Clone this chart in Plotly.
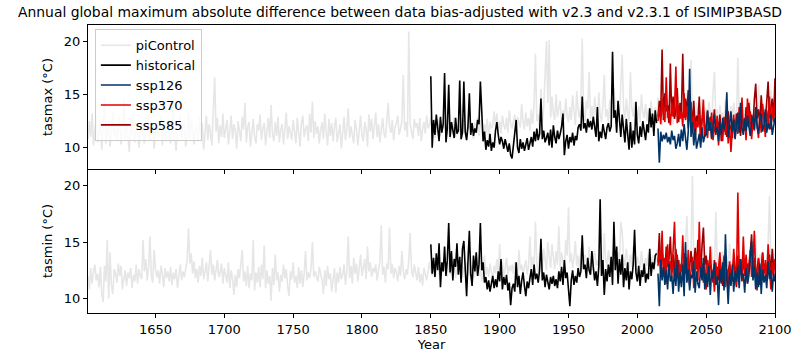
import plotly.graph_objects as go
from plotly.subplots import make_subplots

TITLE = "Annual global maximum absolute difference between data bias-adjusted with v2.3 and v2.3.1 of ISIMIP3BASD"
series_names = ["piControl", "historical", "ssp126", "ssp370", "ssp585"]
series_colors = {"piControl": "#e6e6e6", "historical": "#000000", "ssp126": "#003466",
                 "ssp370": "#e00000", "ssp585": "#990002"}
picontrol_start = 1601
historical_start = 1850
ssp_start = 2015
x_ticks = [1650, 1700, 1750, 1800, 1850, 1900, 1950, 2000, 2050, 2100]
y_ticks = [10, 15, 20]

# ---------------- tasmax ----------------
tasmax_picontrol = [
    10.8, 12.5, 11.0, 13.2, 10.2, 11.8, 12.9, 10.5, 11.4, 12.2,
    9.8, 13.0, 14.7, 10.4, 11.9, 12.6, 10.1, 11.3, 13.4, 11.0,
    12.1, 10.6, 11.7, 12.9, 10.3, 11.5, 14.7, 10.8, 12.4, 11.2,
    9.6, 12.8, 11.1, 13.3, 10.5, 11.9, 12.3, 10.0, 11.6, 12.7,
    11.0, 10.4, 12.9, 11.3, 13.1, 10.7, 11.8, 12.2, 9.9, 11.4,
    12.6, 10.9, 11.5, 13.0, 10.2, 12.1, 11.3, 10.6, 12.8, 11.1,
    10.4, 12.5, 14.4, 11.0, 9.7, 12.0, 11.6, 13.2, 10.8, 11.9,
    12.4, 10.1, 11.2, 13.5, 10.9, 12.7, 11.4, 10.3, 12.0, 11.7,
    10.6, 12.9, 11.1, 12.3, 9.8, 11.5, 13.0, 10.7, 12.2, 11.3,
    10.2, 13.4, 16.6, 11.5, 12.8, 10.4, 12.1, 11.0, 13.2, 10.9,
    11.8, 12.6, 10.3, 11.4, 13.0, 10.8, 12.2, 11.6, 9.9, 12.5,
    11.2, 10.6, 12.9, 11.7, 14.2, 10.5, 11.9, 12.4, 10.1, 11.3,
    12.7, 11.0, 10.4, 12.2, 11.6, 13.1, 10.7, 11.8, 12.3, 10.2,
    11.5, 12.8, 10.9, 14.0, 11.3, 10.6, 12.4, 11.1, 12.9, 10.5,
    11.7, 12.2, 10.3, 11.9, 13.3, 10.8, 12.0, 11.4, 10.7, 12.6,
    11.2, 10.4, 12.8, 11.6, 10.1, 12.3, 13.0, 11.0, 11.8, 12.1,
    10.6, 13.2, 11.4, 14.3, 10.9, 12.5, 11.3, 12.0, 10.4, 11.7,
    12.4, 10.8, 13.2, 11.5, 10.2, 12.7, 11.1, 12.3, 10.6, 11.9,
    12.8, 10.5, 11.6, 12.2, 9.9, 11.4, 12.9, 10.7, 11.8, 13.7,
    10.9, 12.0, 11.3, 10.4, 12.6, 11.7, 10.2, 12.1, 13.0, 11.1,
    10.6, 12.4, 11.8, 10.1, 13.1, 11.5, 12.7, 10.8, 11.9, 13.3,
    11.0, 12.2, 10.5, 11.6, 12.8, 11.3, 10.9, 12.5, 14.2, 12.0,
    11.4, 12.6, 10.7, 11.9, 12.3, 13.0, 11.2, 11.8, 12.5, 16.8,
    11.6, 12.4, 11.0, 20.9, 12.2, 11.5, 10.8, 12.7, 11.9, 12.3,
    11.1, 12.8, 10.6, 11.7, 12.4, 11.3, 13.0, 11.8, 12.1, 12.9,
    11.5, 12.6, 10.9, 12.0, 11.4, 12.7, 11.1, 12.3, 11.8, 12.5,
    11.2, 12.0, 11.7, 10.8, 12.4, 11.6, 12.9, 11.0, 12.2, 11.5,
    12.1, 10.7, 11.9, 12.6, 11.3, 10.9, 12.4, 11.7, 12.0, 11.4,
    10.8, 12.3, 11.5, 12.9, 11.1, 12.6, 11.8, 10.6, 12.2, 11.4,
    12.7, 11.0, 12.4, 11.8, 12.1, 13.4, 12.0, 13.2, 11.6, 12.5,
    11.3, 13.0, 12.1, 11.7, 12.8, 11.4, 13.5, 12.2, 11.8, 12.6,
    13.1, 11.5, 12.9, 12.3, 11.9, 14.1, 12.4, 11.7, 13.3, 12.0,
    12.8, 11.6, 13.6, 12.2, 14.0, 18.8, 12.5, 13.1, 11.9, 15.5,
    12.4, 13.8, 17.5, 20.0, 14.2, 20.1, 12.8, 14.8, 13.2, 12.6,
    15.0, 12.9, 13.7, 14.4, 12.3, 13.5, 12.7, 14.6, 13.0, 12.4,
    13.8, 12.6, 14.9, 13.2, 12.1, 15.3, 13.4, 12.8, 14.1, 20.2,
    13.0, 12.5, 14.4, 13.6, 17.1, 12.7, 13.9, 12.2, 14.8, 13.3,
    12.6, 15.2, 13.1, 12.4, 14.0, 16.8, 12.9, 13.6, 12.3, 14.5,
    13.2, 12.7, 15.6, 13.4, 12.1, 14.2, 13.0, 16.0, 18.7, 13.5,
    12.8, 14.6, 13.1, 12.5, 17.1, 13.7, 12.9, 14.3, 13.2, 12.6,
    13.9, 12.4, 15.0, 13.3, 12.8, 14.1, 12.5, 13.6, 12.2, 14.4,
    13.0, 12.6, 13.8, 12.3, 14.7, 12.9, 13.4, 12.1, 14.0, 12.7,
    13.2, 12.4, 14.5, 12.8, 13.6, 12.2, 14.1, 12.9, 13.3, 12.5,
    13.9, 12.6, 14.8, 13.1, 12.4, 15.2, 12.8, 13.5, 18.2, 12.9,
    13.4, 12.3, 14.2, 12.7, 13.8, 12.1, 14.6, 13.0, 12.5, 13.7,
    12.8, 14.3, 13.2, 12.4, 15.1, 17.1, 12.9, 13.6, 12.2, 14.0,
    12.7, 13.3, 12.1, 14.5, 12.9, 13.5, 12.4, 13.9, 12.6, 14.2,
    13.0, 12.5, 18.4, 13.4, 12.2, 14.1, 12.8, 13.6, 12.3, 13.8,
    12.9, 14.4, 12.6, 13.2, 12.0, 13.7, 12.4, 15.9, 12.8, 13.3,
    12.5, 13.9, 12.2, 14.3, 12.7, 13.1, 15.4, 12.6, 13.8, 12.9,
]
tasmax_historical = [
    16.7, 10.0, 12.6, 11.2, 13.1, 11.8, 10.6, 12.9, 11.4, 12.2,
    17.0, 10.5, 11.8, 15.9, 11.0, 12.4, 11.7, 10.9, 12.8, 11.3,
    11.6, 16.3, 10.8, 11.4, 16.2, 11.5, 10.7, 12.0, 15.1, 11.2,
    12.3, 11.1, 11.8, 11.4, 12.6, 12.2, 16.2, 12.4, 10.6, 11.5,
    9.8, 10.7, 10.1, 11.3, 9.7, 10.5, 10.0, 11.6, 12.4, 11.2,
    10.3, 11.0, 10.6, 9.9, 10.8, 10.2, 9.6, 10.4, 9.3, 9.0,
    10.1, 11.2, 12.6, 10.0, 9.5, 10.8, 9.9, 10.5, 9.7, 10.3,
    10.9, 9.8, 10.4, 11.0, 10.1, 11.5, 10.6, 11.8, 10.7, 11.3,
    14.6, 10.8, 11.6, 10.5, 10.9, 11.4, 10.2, 11.7, 10.0, 12.1,
    11.0, 10.4, 11.6, 10.8, 11.3, 12.0, 13.2, 9.3, 10.6, 11.2,
    9.9, 11.0, 10.5, 11.4, 10.2, 11.1, 10.7, 11.9, 12.2, 11.6,
    14.8, 11.8, 12.3, 11.4, 12.7, 11.9, 12.5, 11.7, 12.9, 12.1,
    11.0, 13.8, 10.6, 11.5, 10.9, 12.2, 11.6, 10.8, 11.9, 12.3,
    11.5, 12.0, 19.0, 12.8, 13.5, 11.4, 14.4, 12.6, 11.0, 13.1,
    12.0, 10.5, 12.7, 11.3, 9.8, 12.4, 10.0, 11.6, 10.3, 14.3,
    11.2, 10.4, 12.0, 11.0, 12.5, 11.6, 10.7, 12.2, 11.4, 13.7,
    11.9, 13.2, 11.1, 13.5, 12.3,
]
tasmax_ssp126 = [
    11.8, 8.6, 11.5, 10.6, 11.2, 10.8, 11.4, 10.5, 11.0, 10.3,
    11.6, 10.7, 11.1, 9.9, 10.4, 11.3, 10.1, 11.7, 10.6, 12.2,
    10.9, 9.8, 11.5, 17.4, 11.0, 12.4, 10.2, 11.8, 9.9, 10.7,
    11.3, 10.0, 11.9, 10.5, 11.1, 11.2, 13.5, 11.6, 12.4, 10.9,
    12.2, 13.1, 11.4, 11.9, 10.6, 12.5, 11.2, 12.8, 11.7, 12.3,
    15.2, 11.0, 12.1, 13.4, 11.5, 12.6, 10.8, 12.0, 13.3, 11.4,
    14.2, 11.8, 11.2, 12.7, 11.6, 13.0, 12.2, 11.1, 12.4, 12.9,
    11.7, 13.8, 11.9, 11.3, 12.6, 13.2, 11.5, 12.1, 13.6, 11.4,
    12.3, 11.7, 13.1, 11.2, 12.0, 12.8,
]
tasmax_ssp370 = [
    12.5, 13.8, 12.2, 14.6, 13.1, 12.4, 16.6, 12.8, 13.5, 12.1,
    14.2, 12.9, 13.6, 17.6, 12.3, 14.0, 12.7, 13.4, 12.0, 15.1,
    12.6, 13.9, 11.8, 12.9, 14.3, 11.5, 13.0, 10.8, 12.4, 11.9,
    13.2, 10.5, 12.7, 14.5, 11.3, 12.1, 10.9, 12.8, 11.6, 13.3,
    10.7, 12.0, 11.4, 13.0, 10.2, 12.5, 11.8, 10.6, 12.9, 11.2,
    13.6, 10.4, 12.3, 9.6, 11.7, 13.1, 10.9, 12.6, 11.3, 13.8,
    12.0, 14.7, 11.5, 12.8, 10.7, 14.6, 11.9, 13.4, 10.8, 12.5,
    11.6, 13.7, 12.2, 10.9, 13.0, 11.4, 14.1, 12.3, 11.0, 13.5,
    12.1, 14.8, 11.7, 13.9, 12.4, 14.3,
]
tasmax_ssp585 = [
    12.9, 14.4, 13.2, 19.2, 12.6, 15.1, 13.4, 14.0, 12.3, 17.9,
    13.0, 14.8, 12.7, 13.5, 15.6, 12.4, 14.2, 13.1, 18.8, 12.8,
    14.6, 13.3, 15.4, 12.5, 13.9, 12.2, 14.4, 11.7, 13.0, 12.4,
    14.8, 11.3, 12.6, 13.5, 11.0, 12.2, 13.4, 11.6, 12.9, 10.8,
    12.0, 13.6, 11.2, 12.5, 11.8, 13.1, 10.6, 12.3, 11.5, 12.8,
    11.0, 13.4, 11.7, 12.1, 10.9, 12.7, 11.4, 13.2, 11.9, 12.4,
    11.1, 13.0, 12.2, 11.6, 13.8, 12.0, 14.2, 12.5, 13.1, 11.8,
    14.5, 16.0, 12.7, 13.6, 12.2, 14.9, 12.9, 13.3, 12.4, 14.0,
    16.2, 12.8, 13.7, 14.6, 12.6, 16.5,
]

# ---------------- tasmin ----------------
tasmin_picontrol = [
    12.0, 10.8, 12.7, 11.3, 12.4, 13.0, 11.6, 12.2, 11.0, 12.8,
    10.4, 9.7, 12.9, 11.5, 15.2, 10.0, 14.1, 11.2, 10.4, 12.6,
    12.2, 11.4, 13.1, 12.0, 12.9, 10.8, 11.7, 12.5, 11.1, 12.3,
    11.8, 12.7, 10.9, 12.1, 11.5, 13.0, 11.3, 12.6, 12.0, 11.7,
    15.2, 12.4, 13.5, 11.6, 12.8, 15.5, 12.0, 11.4, 14.3, 12.6,
    11.9, 12.5, 11.3, 12.9, 12.2, 11.0, 12.7, 11.8, 12.4, 11.5,
    12.8, 11.2, 12.3, 11.7, 12.6, 10.9, 12.1, 13.0, 11.6, 12.4,
    11.9, 12.7, 13.4, 16.2, 13.1, 14.0, 12.2, 13.3, 11.8, 12.6,
    11.4, 12.9, 12.0, 13.6, 11.7, 12.4, 13.2, 11.5, 12.8, 14.3,
    12.1, 13.0, 11.6, 12.5, 13.4, 11.9, 12.3, 13.1, 11.3, 12.7,
    12.0, 11.4, 13.2, 10.9, 12.5, 11.7, 10.3, 12.1, 11.0, 12.6,
    11.8, 13.3, 14.3, 11.5, 12.4, 11.1, 12.9, 10.9, 12.2, 11.6,
    15.2, 10.7, 12.3, 11.4, 12.8, 11.0, 13.0, 11.7, 14.7, 10.9,
    12.5, 11.3, 12.0, 9.8, 12.7, 11.2, 13.9, 11.6, 12.3, 10.6,
    12.1, 11.5, 13.0, 11.8, 12.6, 11.1, 10.2, 12.4, 11.7, 13.2,
    11.4, 12.0, 10.9, 12.8, 11.3, 12.5, 11.0, 12.2, 14.2, 11.6,
    12.3, 11.8, 12.7, 15.0, 11.9, 12.4, 12.0, 11.5, 12.8, 12.1,
    11.6, 10.4, 12.5, 11.1, 12.9, 11.7, 12.2, 10.6, 11.9, 12.7,
    10.5, 12.3, 11.4, 12.8, 11.7, 12.1, 13.0, 11.2, 12.4, 15.5,
    11.8, 12.9, 11.3, 13.6, 12.2, 13.1, 11.5, 12.6, 13.9, 12.0,
    12.8, 13.5, 11.7, 14.6, 12.4, 13.2, 11.9, 12.7, 12.3, 13.0,
    11.6, 12.5, 13.3, 16.5, 12.1, 12.8, 11.4, 13.1, 12.6, 16.3,
    12.2, 13.0, 11.8, 12.7, 12.3, 11.5, 12.9, 12.0, 14.2, 12.4,
    11.7, 12.6, 12.1, 13.4, 15.8, 12.5, 11.9, 13.0, 12.3, 11.6,
    12.8, 11.4, 12.2, 11.1, 12.7, 12.0, 11.6, 12.4, 13.2, 12.5,
    12.0, 13.1, 11.8, 12.6, 13.5, 12.2, 11.7, 12.9, 12.3, 13.0,
    12.5, 11.9, 13.3, 12.1, 12.8, 12.4, 13.6, 11.8, 12.7, 12.2,
    13.0, 12.4, 11.9, 12.8, 12.3, 13.2, 12.6, 12.0, 12.9, 12.5,
    11.8, 12.6, 12.2, 13.4, 12.0, 12.7, 11.5, 12.3, 13.8, 12.1,
    12.8, 11.9, 13.1, 12.4, 11.6, 12.9, 12.2, 13.5, 12.0, 14.8,
    12.5, 13.3, 11.8, 12.7, 13.6, 12.1, 12.9, 12.4, 13.0, 12.2,
    13.2, 12.6, 11.9, 14.3, 12.5, 13.0, 12.2, 12.8, 13.4, 12.1,
    12.9, 15.5, 12.4, 13.7, 12.6, 16.8, 13.1, 12.3, 14.0, 13.5,
    12.8, 14.4, 13.2, 12.5, 15.0, 13.6, 12.7, 14.8, 13.3, 12.6,
    14.2, 13.0, 16.4, 12.8, 14.1, 13.4, 12.5, 15.2, 13.8, 18.1,
    13.2, 14.0, 12.7, 13.6, 15.1, 12.9, 13.8, 12.4, 14.5, 13.1,
    12.6, 13.9, 13.3, 12.8, 14.6, 13.0, 12.5, 13.7, 14.2, 12.9,
    13.4, 12.7, 14.0, 13.2, 12.6, 15.8, 13.5, 12.8, 14.3, 13.1,
    12.4, 13.8, 14.7, 13.0, 12.5, 14.1, 13.3, 16.8, 15.9, 13.6,
    12.9, 14.4, 13.2, 12.6, 13.9, 12.8, 14.6, 13.1, 12.4, 13.7,
    13.3, 12.7, 14.2, 13.0, 12.5, 13.6, 12.9, 14.0, 13.2, 12.6,
    13.8, 12.4, 13.1, 14.3, 12.8, 13.4, 12.2, 13.9, 12.7, 13.5,
    12.9, 14.1, 13.3, 12.6, 13.7, 12.4, 14.5, 13.0, 12.8, 13.6,
    12.5, 14.0, 13.2, 12.7, 15.0, 17.3, 13.4, 12.9, 14.2, 20.9,
    13.1, 12.6, 13.8, 12.3, 14.4, 13.0, 12.7, 13.5, 12.4, 14.1,
    12.8, 13.3, 12.5, 14.6, 13.0, 12.2, 17.7, 13.4, 12.9, 13.8,
    12.6, 14.2, 13.1, 12.4, 13.7, 12.8, 14.9, 13.2, 12.5, 13.9,
    12.7, 13.4, 12.3, 14.0, 13.1, 12.6, 15.3, 13.0, 12.4, 13.6,
    12.9, 14.3, 12.5, 13.2, 12.8, 15.6, 13.3, 12.2, 13.9, 12.7,
    14.1, 13.0, 12.6, 13.5, 15.0, 19.1, 13.2, 12.8, 14.4, 13.0,
]
tasmin_historical = [
    14.8, 12.2, 13.6, 11.9, 14.0, 12.5, 14.9, 11.0, 13.2, 12.4,
    14.6, 12.0, 13.4, 16.7, 12.3, 14.2, 11.6, 13.5, 12.8, 14.9,
    12.1, 13.7, 11.4, 14.4, 15.1, 12.6, 10.2, 13.3, 16.0, 12.2,
    11.1, 13.8, 12.4, 14.1, 12.0, 13.0, 16.7, 12.5, 13.2, 11.4,
    11.9, 10.8, 11.6, 10.6, 11.3, 12.0, 10.9, 11.7, 11.0, 12.4,
    11.5, 13.5, 10.8, 11.9, 11.2, 12.1, 10.7, 11.4, 9.4, 10.9,
    11.3, 10.6, 13.2, 11.0, 12.0, 10.4, 11.6, 12.3, 11.1, 10.2,
    11.5, 10.9, 11.8, 12.6, 11.2, 13.0, 11.7, 12.2, 11.4, 12.5,
    15.3, 11.6, 12.3, 11.0, 12.1, 11.5, 10.8, 11.9, 11.3, 12.0,
    11.1, 11.7, 10.9, 12.4, 11.5, 12.8, 11.2, 13.4, 11.8, 12.3,
    11.0, 9.3, 11.6, 12.5, 11.2, 12.0, 11.4, 12.7, 11.9, 12.4,
    15.6, 12.6, 13.0, 11.8, 13.6, 12.5, 12.1, 14.2, 12.8, 11.6,
    12.4, 11.1, 12.8, 18.8, 12.0, 13.4, 10.3, 12.6, 11.5, 13.0,
    11.9, 13.7, 11.2, 16.8, 12.5, 14.6, 11.3, 13.5, 12.1, 13.9,
    11.0, 12.7, 11.6, 13.2, 10.8, 12.4, 11.7, 13.0, 16.1, 12.3,
    11.5, 12.9, 11.1, 12.5, 11.9, 13.1, 11.4, 12.2, 11.7, 14.4,
    12.0, 13.2, 12.6, 13.8, 14.0,
]
tasmin_ssp126 = [
    12.2, 9.3, 13.5, 11.6, 12.8, 11.2, 12.5, 10.8, 13.1, 11.5,
    12.0, 10.4, 12.7, 11.1, 13.4, 10.6, 12.3, 11.0, 13.0, 10.2,
    15.0, 11.4, 12.6, 10.7, 12.1, 11.8, 13.3, 10.5, 12.4, 11.3,
    10.9, 12.8, 11.6, 13.6, 10.8, 12.2, 11.0, 12.9, 10.3, 12.5,
    11.7, 13.1, 11.2, 12.0, 9.4, 12.6, 11.4, 13.2, 10.7, 15.7,
    11.9, 9.5, 12.3, 11.1, 13.0, 10.6, 12.4, 11.5, 12.9, 10.9,
    13.5, 11.8, 12.2, 10.5, 12.7, 11.3, 12.0, 13.4, 15.1, 11.6,
    12.8, 10.8, 12.3, 11.0, 13.1, 10.4, 12.6, 11.4, 12.1, 10.9,
    13.3, 11.7, 12.5, 10.6, 12.2, 11.5,
]
tasmin_ssp370 = [
    12.9, 14.2, 12.4, 16.0, 12.0, 13.6, 11.3, 14.8, 12.7, 13.3,
    11.8, 14.5, 16.8, 12.2, 13.9, 11.5, 13.0, 12.4, 15.6, 11.9,
    13.5, 12.1, 14.3, 11.2, 12.8, 13.7, 10.9, 12.6, 14.0, 11.6,
    16.8, 12.3, 13.1, 11.4, 12.9, 10.8, 13.4, 12.0, 14.6, 11.7,
    12.5, 10.6, 13.2, 11.9, 12.7, 14.1, 11.3, 12.4, 13.8, 11.0,
    12.6, 10.5, 13.3, 12.1, 11.5, 14.4, 12.8, 11.2, 19.4, 12.3,
    13.5, 11.8, 15.5, 12.0, 13.9, 11.4, 12.7, 14.3, 11.9, 13.0,
    16.0, 12.2, 10.7, 13.6, 12.5, 11.3, 14.0, 12.1, 13.4, 11.6,
    14.8, 12.4, 10.8, 13.2, 12.0, 13.5,
]
tasmin_ssp585 = [
    13.2, 15.8, 12.6, 14.3, 13.0, 12.1, 14.6, 12.8, 13.5, 15.5,
    12.3, 13.9, 12.0, 14.4, 12.7, 13.4, 11.8, 13.1, 12.5, 14.0,
    12.2, 13.6, 11.9, 12.8, 14.2, 12.4, 13.0, 14.5, 12.6, 15.2,
    13.3, 12.1, 14.7, 16.3, 12.9, 13.8, 12.3, 11.7, 13.1, 12.6,
    11.4, 13.4, 12.0, 12.8, 11.6, 13.2, 12.4, 11.1, 12.9, 13.6,
    11.8, 12.5, 13.0, 11.3, 12.7, 13.5, 12.2, 11.0, 13.8, 12.1,
    12.9, 11.5, 13.3, 12.6, 11.8, 13.1, 12.4, 14.0, 15.7, 12.2,
    13.6, 11.9, 12.8, 13.5, 11.2, 12.7, 14.1, 12.3, 13.0, 11.6,
    12.5, 13.9, 12.1, 14.4, 12.7, 13.3,
]

panels = [
    ("tasmax (°C)", [8.0, 21.5], {"piControl": tasmax_picontrol, "historical": tasmax_historical,
                                   "ssp126": tasmax_ssp126, "ssp370": tasmax_ssp370, "ssp585": tasmax_ssp585}),
    ("tasmin (°C)", [8.7, 21.5], {"piControl": tasmin_picontrol, "historical": tasmin_historical,
                                   "ssp126": tasmin_ssp126, "ssp370": tasmin_ssp370, "ssp585": tasmin_ssp585}),
]
starts = {"piControl": picontrol_start, "historical": historical_start,
          "ssp126": ssp_start, "ssp370": ssp_start, "ssp585": ssp_start}
draw_order = ["piControl", "historical", "ssp585", "ssp370", "ssp126"]

fig = make_subplots(rows=2, cols=1, shared_xaxes=True, vertical_spacing=0)
FONT = "DejaVu Sans"

for row, (ylabel, yrange, data) in enumerate(panels, start=1):
    for name in draw_order:
        vals = data[name]
        years = list(range(starts[name], starts[name] + len(vals)))
        fig.add_trace(go.Scatter(
            x=years, y=vals, mode="lines", name=name,
            line=dict(color=series_colors[name], width=1.6),
            showlegend=(row == 1), legendrank=series_names.index(name) + 1,
        ), row=row, col=1)
    fig.update_yaxes(title_text=ylabel, range=yrange, tickvals=y_ticks, row=row, col=1)

axis_style = dict(showline=True, linecolor="black", linewidth=1, mirror=True, ticks="outside",
                  ticklen=4, tickcolor="black", showgrid=False, zeroline=False, automargin=False,
                  tickfont=dict(family=FONT, size=13, color="black"),
                  title_font=dict(family=FONT, size=13, color="black"))
fig.update_xaxes(**axis_style)
fig.update_yaxes(**axis_style)
fig.update_yaxes(title_standoff=8)
fig.update_xaxes(range=[1601, 2100], tickvals=x_ticks)
fig.update_xaxes(title_text="Year", title_standoff=4, mirror=False, row=2, col=1)
fig.update_xaxes(showticklabels=False, row=1, col=1)

fig.update_layout(
    width=800, height=360,
    margin=dict(l=88, r=25, t=25, b=47),
    plot_bgcolor="white", paper_bgcolor="white",
    title=dict(text=TITLE, x=0.5, xanchor="center", y=1 - 12 / 360, yanchor="middle",
               font=dict(family=FONT, size=13.9, color="black")),
    font=dict(family=FONT, size=13, color="black"),
    legend=dict(x=0.01, y=0.985, xanchor="left", yanchor="top",
                bgcolor="rgba(255,255,255,0.8)", bordercolor="#cccccc", borderwidth=1,
                font=dict(family=FONT, size=13, color="black"),
                tracegroupgap=0, itemwidth=30),
)

# remove the default page margin so the 800x360 figure fills the window exactly
fig.write_html("out.html", config={"displayModeBar": False},
               post_script="document.body.style.margin='0';document.body.style.padding='0';")
